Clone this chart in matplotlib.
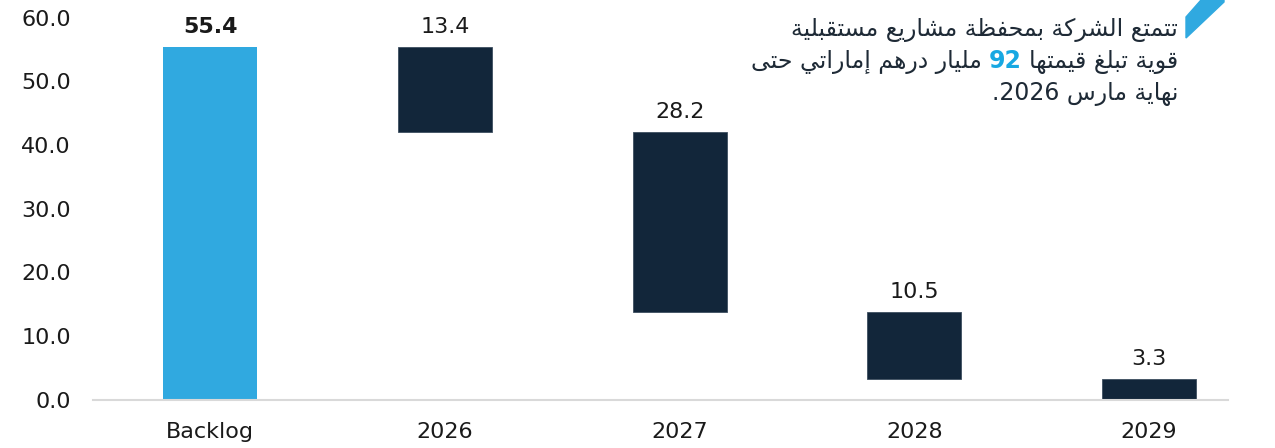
import unicodedata
import numpy as np
import matplotlib
matplotlib.use('Agg')
import matplotlib.pyplot as plt
from matplotlib.patches import Polygon

# data
categories = ['Backlog', '2026', '2027', '2028', '2029']
backlog = 55.4
yearly = [13.4, 28.2, 10.5, 3.3]
yticks = [0, 10, 20, 30, 40, 50, 60]

note_line1 = 'تتمتع الشركة بمحفظة مشاريع مستقبلية'
note_line2_right = 'قوية تبلغ قيمتها'
note_value = '92'
note_line2_left = 'مليار درهم إماراتي حتى'
note_line3 = 'نهاية مارس 2026.'

BLUE = '#30a9e0'
NAVY = '#12263a'
TEXT = '#1a1a1a'
NOTE = '#1e2a36'


# --- small arabic shaper (matplotlib has no bidi / joining support) ---
def _form(c, form):
    try:
        return unicodedata.lookup(unicodedata.name(c) + ' ' + form + ' FORM')
    except (KeyError, ValueError):
        return None


def _is_ar(c):
    return '\u0621' <= c <= '\u064a'


def shape_word(w):
    out = []
    for i, c in enumerate(w):
        if not _is_ar(c):
            out.append(c)
            continue
        prev = w[i - 1] if i > 0 else ''
        nxt = w[i + 1] if i + 1 < len(w) else ''
        jp = bool(prev) and _is_ar(prev) and _form(prev, 'INITIAL') is not None
        jn = bool(nxt) and _is_ar(nxt) and _form(c, 'INITIAL') is not None
        if jp and jn:
            f = 'MEDIAL'
        elif jp:
            f = 'FINAL'
        elif jn:
            f = 'INITIAL'
        else:
            f = 'ISOLATED'
        out.append(_form(c, f) or c)
    return ''.join(out)


def rtl(s):
    # reverse word order; arabic words are reversed, number runs kept as is
    words = s.split(' ')
    vis = []
    for w in words:
        if any(_is_ar(c) for c in w):
            vis.append(shape_word(w)[::-1])
        else:
            # trailing punctuation goes to the left in rtl
            core = w.rstrip('.')
            vis.append('.' * (len(w) - len(core)) + core)
    return ' '.join(vis[::-1])


plt.rcParams['font.family'] = ['DejaVu Sans']

# waterfall bottoms
bottoms = []
level = backlog
for v in yearly:
    level -= v
    bottoms.append(level)

fig = plt.figure(figsize=(12.75, 4.48), dpi=100)
ax = fig.add_axes([93 / 1275, 48.5 / 448, (1228 - 93) / 1275, (399.5 - 17.7) / 448])

x = np.arange(len(categories))
ax.bar(x[0], backlog, width=0.4, color=BLUE)
ax.bar(x[1:], yearly, bottom=bottoms, width=0.4, color=NAVY,
       edgecolor='#3d4e60', linewidth=0.6)

ax.annotate(f'{backlog:.1f}', (x[0], backlog), xytext=(0, 10), textcoords='offset points',
            ha='center', va='baseline', fontsize=16, fontweight='bold', color=TEXT)
for xi, v, b in zip(x[1:], yearly, bottoms):
    ax.annotate(f'{v:.1f}', (xi, b + v), xytext=(0, 10), textcoords='offset points',
                ha='center', va='baseline', fontsize=16, color=TEXT)

ax.set_xlim(-0.5, (1228 - 210) / 234.75)
ax.set_ylim(0, 60)
ax.set_yticks(yticks)
ax.set_yticklabels([f'{t:.1f}' for t in yticks])
ax.set_xticks(x)
ax.set_xticklabels(categories)
ax.tick_params(axis='y', length=0, pad=16, labelsize=16, labelcolor=TEXT)
ax.tick_params(axis='x', length=0, pad=16, labelsize=16, labelcolor=TEXT)
for s in ['top', 'right', 'left']:
    ax.spines[s].set_visible(False)
ax.spines['bottom'].set_color('#d9d9d9')
ax.spines['bottom'].set_linewidth(1.5)

# note at top right
W, H = 1275, 448
xr = 1178 / W
fs = 17
fig.text(xr, 1 - 36 / H, rtl(note_line1), ha='right', va='baseline', fontsize=fs, color=NOTE)
fig.text(xr, 1 - 100 / H, rtl(note_line3), ha='right', va='baseline', fontsize=fs, color=NOTE)

renderer = fig.canvas.get_renderer()
t1 = fig.text(xr, 1 - 68 / H, rtl(note_line2_right), ha='right', va='baseline',
              fontsize=fs, color=NOTE)
gap = 7 / W
bb = t1.get_window_extent(renderer)
t2 = fig.text(bb.x0 / W - gap, 1 - 68 / H, note_value, ha='right', va='baseline',
              fontsize=fs, fontweight='bold', color='#18a8e2')
bb = t2.get_window_extent(renderer)
fig.text(bb.x0 / W - gap, 1 - 68 / H, rtl(note_line2_left), ha='right', va='baseline',
         fontsize=fs, color=NOTE)

# blue corner mark
pts = [(1186, 17), (1201, 0), (1224, 0), (1224, 2), (1186, 38)]
fig.patches.append(Polygon([(px / W, 1 - py / H) for px, py in pts], closed=True,
                           transform=fig.transFigure, color=BLUE, figure=fig))

fig.savefig('out.png', dpi=100)
